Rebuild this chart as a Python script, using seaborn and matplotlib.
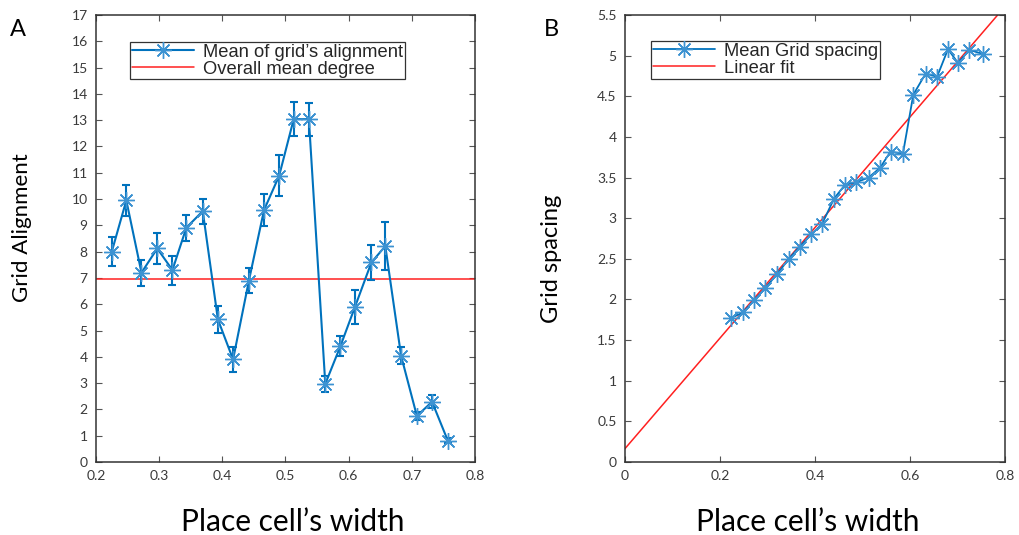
import numpy as np
import pandas as pd
import matplotlib
matplotlib.use("Agg")
import matplotlib.pyplot as plt
import seaborn as sns

# ---- Panel A data ----
width_a = [0.225, 0.248, 0.272, 0.297, 0.321, 0.343, 0.369, 0.393, 0.417, 0.442, 0.466, 0.490,
           0.513, 0.537, 0.563, 0.587, 0.610, 0.636, 0.658, 0.683, 0.708, 0.732, 0.757]
align_mean = [8.0, 9.95, 7.2, 8.12, 7.3, 8.91, 9.54, 5.42, 3.9, 6.89, 9.58, 10.89,
              13.04, 13.04, 2.97, 4.41, 5.9, 7.59, 8.21, 4.04, 1.75, 2.29, 0.81]
align_err = [0.55, 0.6, 0.5, 0.6, 0.55, 0.5, 0.47, 0.5, 0.48, 0.48, 0.6, 0.78,
             0.65, 0.63, 0.3, 0.37, 0.66, 0.65, 0.92, 0.32, 0.15, 0.25, 0.1]
overall_mean = 6.95

# ---- Panel B data ----
width_b = [0.223, 0.248, 0.272, 0.295, 0.320, 0.345, 0.368, 0.392, 0.415, 0.440, 0.463, 0.486,
           0.513, 0.537, 0.559, 0.585, 0.607, 0.633, 0.657, 0.680, 0.701, 0.725, 0.754]
spacing_mean = [1.77, 1.84, 1.99, 2.14, 2.31, 2.50, 2.65, 2.80, 2.93, 3.24, 3.41, 3.44,
                3.50, 3.62, 3.82, 3.79, 4.52, 4.78, 4.74, 5.08, 4.91, 5.07, 5.02]
fit_intercept = 0.165
fit_slope = 6.8
fit_x = [0.0, 0.8]

blue = "#0072BD"
mark_blue = "#3d93d2"
red = "#FF2020"
tick_color = "#3a3a3a"
ast = (8, 2, 0)

sns.set_style("ticks")
plt.rcParams['font.family'] = ['Lato', 'DejaVu Sans']

fig = plt.figure(figsize=(10.2, 5.35), dpi=100)
axA = fig.add_axes([96/1020, 73/535, 379/1020, 447/535])
axB = fig.add_axes([625/1020, 73/535, 380/1020, 447/535])

dfA = pd.DataFrame({"x": width_a, "y": align_mean})
axA.errorbar(width_a, align_mean, yerr=align_err, fmt="none", ecolor=blue,
             elinewidth=1.5, capsize=3, capthick=1.5, zorder=2)
sns.lineplot(data=dfA, x="x", y="y", ax=axA, color=blue, lw=1.5, marker=ast,
             markersize=12, markeredgewidth=1.0, markeredgecolor=mark_blue,
             label="Mean of grid\u2019s alignment", zorder=3, sort=False)
axA.axhline(overall_mean, color=red, lw=1.1, label="Overall mean degree", zorder=1)

dfB = pd.DataFrame({"x": width_b, "y": spacing_mean})
fit_y = [fit_intercept + fit_slope * v for v in fit_x]
sns.lineplot(data=dfB, x="x", y="y", ax=axB, color=blue, lw=1.3, marker=ast,
             markersize=12, markeredgewidth=1.0, markeredgecolor=mark_blue,
             label="Mean Grid spacing", zorder=3, sort=False)
sns.lineplot(x=fit_x, y=fit_y, ax=axB, color=red, lw=1.1, label="Linear fit", zorder=2)

axA.set_xlim(0.2, 0.8)
axA.set_ylim(0, 17)
axA.set_xticks([0.2, 0.3, 0.4, 0.5, 0.6, 0.7, 0.8])
axA.set_yticks(range(0, 18))
axB.set_xlim(0, 0.8)
axB.set_ylim(0, 5.5)
axB.set_xticks([0, 0.2, 0.4, 0.6, 0.8])
axB.set_yticks([0, 0.5, 1, 1.5, 2, 2.5, 3, 3.5, 4, 4.5, 5, 5.5])

for ax in (axA, axB):
    ax.xaxis.set_major_formatter(matplotlib.ticker.FormatStrFormatter('%g'))
    ax.yaxis.set_major_formatter(matplotlib.ticker.FormatStrFormatter('%g'))
    ax.tick_params(direction="in", length=4, width=0.8, top=True, right=True,
                   labelsize=10, labelcolor=tick_color, color="#555555", pad=6)
    for s in ax.spines.values():
        s.set_visible(True)
        s.set_color("#333333")
        s.set_linewidth(1.1)
    ax.set_xlabel("")
    ax.set_ylabel("")
    leg = ax.legend(loc="upper left", bbox_to_anchor=(0.0897, 0.94) if ax is axA else (0.068, 0.942),
                    frameon=True, fancybox=False, framealpha=1, edgecolor="#333333",
                    prop={"family": "Liberation Sans", "size": 13.2},
                    handlelength=3.4, borderpad=0.1, labelspacing=0.0,
                    handletextpad=0.5, borderaxespad=0)
    leg.get_frame().set_linewidth(0.9)

fig.text(22/1020, 1 - 228/535, "Grid Alignment", rotation=90, ha="center", va="center",
         fontsize=16, color="black")
fig.text(293/1020, 1 - 522/535, "Place cell\u2019s width", ha="center", va="center",
         fontsize=21.5, color="black")
fig.text(552/1020, 1 - 259/535, "Grid spacing", rotation=90, ha="center", va="center",
         fontsize=17, color="black")
fig.text(808/1020, 1 - 522/535, "Place cell\u2019s width", ha="center", va="center",
         fontsize=21.5, color="black")
fig.text(18/1020, 1 - 30/535, "A", ha="center", va="center", fontsize=17, color="black")
fig.text(551/1020, 1 - 30/535, "B", ha="center", va="center", fontsize=17, color="black")

fig.savefig("out.png", dpi=100, facecolor="white")
